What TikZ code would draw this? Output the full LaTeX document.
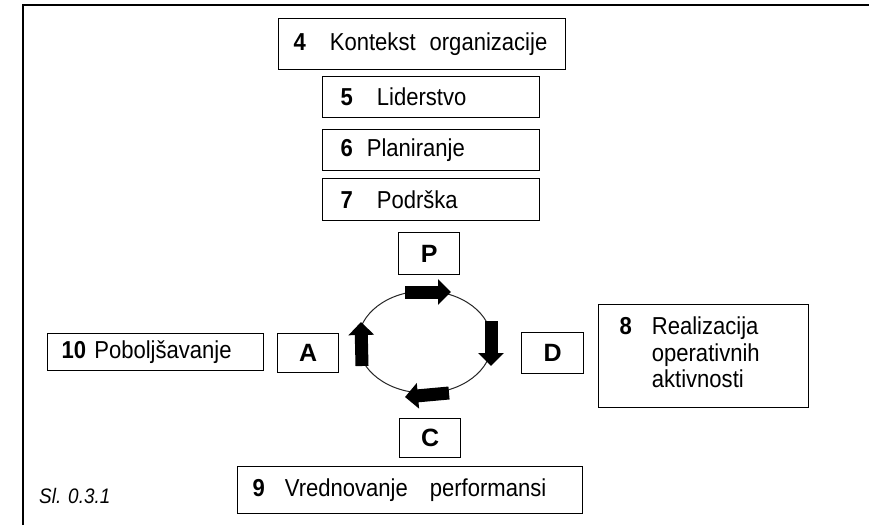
\documentclass[tikz,border=0pt]{standalone}
\usepackage{fontspec}
\setmainfont{Liberation Sans}[FakeStretch=0.9]
\newfontfamily\letterfont{Liberation Sans}
\usetikzlibrary{arrows.meta}
\begin{document}
\begin{tikzpicture}[x=1pt,y=-1pt,
  box/.style={draw, line width=1.2pt, anchor=north west, align=left,
    inner ysep=0pt, font=\fontsize{24.5}{26.5}\selectfont},
  letter/.style={draw, line width=1.2pt, anchor=north west, inner sep=0pt,
    font=\letterfont\fontsize{25}{30}\selectfont\bfseries},
  cyc/.style={line width=13pt, -{Triangle[width=25pt,length=13pt]}}
]
\useasboundingbox (0,0) rectangle (869,525);
% page frame (left and top edges)
\draw[line width=1.8pt] (23,525) -- (23,5) -- (869,5);

% clause boxes
\node[box, minimum height=51pt, inner xsep=15pt, text width=257pt] (k4) at (278,18)
  {\textbf{4}\hspace{24pt}Kontekst\hspace{14pt}organizacije};
\node[box, minimum height=41pt, inner xsep=18pt, text width=181pt] (k5) at (322,76)
  {\textbf{5}\hspace{24pt}Liderstvo};
\node[box, minimum height=41pt, inner xsep=18pt, text width=181pt] (k6) at (322,129)
  {\textbf{6}\hspace{14pt}Planiranje};
\node[box, minimum height=42pt, inner xsep=18pt, text width=181pt] (k7) at (322,178)
  {\textbf{7}\hspace{24pt}Podrška};
\node[box, minimum height=103pt, inner xsep=21pt, text width=168pt] (k8) at (598,304)
  {\textbf{8}\hspace{20pt}\begin{tabular}[t]{@{}l@{}}Realizacija\\operativnih\\aktivnosti\end{tabular}};
\node[box, minimum height=47pt, inner xsep=15pt, text width=315pt] (k9) at (237,466)
  {\textbf{9}\hspace{20pt}Vrednovanje\hspace{22pt}performansi};
\node[box, minimum height=37pt, inner xsep=14pt, text width=188pt] (k10) at (47,333)
  {\textbf{10} Poboljšavanje};

% PDCA letter boxes
\node[letter, minimum width=61pt, minimum height=42pt] (P) at (398,232) {P};
\node[letter, minimum width=61pt, minimum height=39pt] (A) at (277,333) {A};
\node[letter, minimum width=62pt, minimum height=41pt] (D) at (521,332) {D};
\node[letter, minimum width=61pt, minimum height=39pt] (C) at (399,418) {C};

% cycle
\draw[line width=1pt, black!85] (425,342) ellipse [x radius=67pt, y radius=51pt];
\coordinate (t1) at (405,292); \coordinate (t2) at (451,292);
\coordinate (r1) at (491,321); \coordinate (r2) at (491,366);
\coordinate (b1) at (449,393); \coordinate (b2) at (405,397);
\coordinate (l1) at (362,366); \coordinate (l2) at (361,322);
\draw[cyc] (t1) -- (t2);
\draw[cyc] (r1) -- (r2);
\draw[cyc] (b1) -- (b2);
\draw[cyc] (l1) -- (l2);

% figure label
\node[font=\fontsize{21}{24}\selectfont\itshape, anchor=west, inner sep=0pt] (fig) at (39,496) {Sl. 0.3.1};
\end{tikzpicture}
\end{document}
